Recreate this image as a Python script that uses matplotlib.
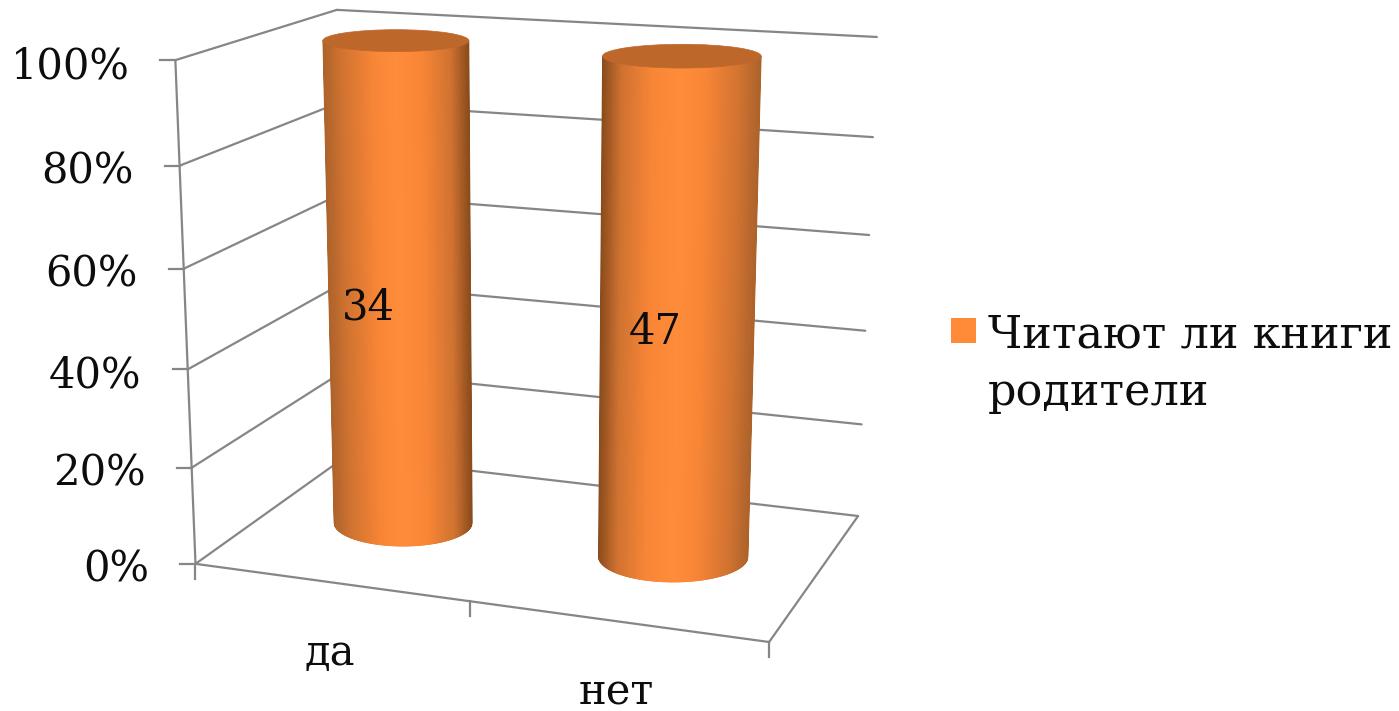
import matplotlib

matplotlib.use("Agg")
import matplotlib.pyplot as plt
import numpy as np
from matplotlib.collections import PolyCollection
from matplotlib.colors import LinearSegmentedColormap
from matplotlib.patches import Ellipse, Rectangle

categories = ["да", "нет"]
counts = [34, 47]
y_ticks = [0, 20, 40, 60, 80, 100]
y_labels = ["0%", "20%", "40%", "60%", "80%", "100%"]
series_name = "Читают ли книги\nродители"

FONT = "DejaVu Serif"
INK = "#0d0d0d"
GRID = "#868686"
ORANGE = "#FF8B39"
CAP = "#BE672B"

# box corners (u along categories, v depth, w height) -> pixel, for the perspective fit
corners = {
    (0, 0, 0): (195, 564),
    (1, 0, 0): (769, 642),
    (1, 1, 0): (858, 516),
    (0, 1, 0): (347, 456),
    (0, 0, 1): (176, 60),
    (1, 1, 1): (877, 37),
    (0, 1, 1): (336, 10),
}


def fit_projection(pairs):
    rows = []
    for (u, v, w), (x, y) in pairs.items():
        rows.append([u, v, w, 1, 0, 0, 0, 0, -x * u, -x * v, -x * w, -x])
        rows.append([0, 0, 0, 0, u, v, w, 1, -y * u, -y * v, -y * w, -y])
    _, _, vt = np.linalg.svd(np.array(rows, dtype=float))
    return vt[-1].reshape(3, 4)


P = fit_projection(corners)


def project(u, v, w):
    u, v, w = np.broadcast_arrays(u, v, w)
    pts = np.stack([u, v, w, np.ones_like(u, dtype=float)], axis=-1)
    res = pts @ P.T
    return res[..., :2] / res[..., 2:3]


shade = LinearSegmentedColormap.from_list(
    "cyl",
    [
        (0.0, "#AD632B"),
        (0.12, "#CF7231"),
        (0.35, "#F98636"),
        (0.5, "#FF8C3A"),
        (0.68, "#F98636"),
        (0.88, "#CF7231"),
        (1.0, "#8A4C1C"),
    ],
)

fig = plt.figure(figsize=(13.99, 7.11), dpi=100)
ax = fig.add_axes([0, 0, 1, 1])
ax.set_xlim(0, 1399)
ax.set_ylim(711, 0)
ax.axis("off")


def line3d(a, b):
    pts = project(*np.array([a, b], dtype=float).T)
    ax.plot(pts[:, 0], pts[:, 1], color=GRID, lw=1.6, solid_capstyle="round", zorder=1)


# walls and floor
for t in y_ticks:
    w = t / 100
    line3d((0, 0, w), (0, 1, w))
    line3d((0, 1, w), (1, 1, w))
    x0, y0 = project(0, 0, w)
    ax.plot([x0 - 15, x0], [y0, y0], color=GRID, lw=1.6, zorder=1)
line3d((0, 0, 0), (0, 0, 1))
line3d((0, 0, 0), (1, 0, 0))
line3d((1, 0, 0), (1, 1, 0))
for u in [0, 0.5, 1]:
    x0, y0 = project(u, 0, 0)
    ax.plot([x0, x0], [y0, y0 + 15], color=GRID, lw=1.6, zorder=1)

for t, lab in zip(y_ticks, y_labels):
    x0, y0 = project(0, 0, t / 100)
    ax.text(x0 - 46, y0 + 6, lab, ha="right", va="center", fontsize=30, family=FONT, color=INK)


def ellipse_size(uc, w):
    (x0, _), (x1, _) = project(uc - R_U, 0.5, w), project(uc + R_U, 0.5, w)
    (_, y0), (_, y1) = project(uc, 0.5 - R_V, w), project(uc, 0.5 + R_V, w)
    return abs(x1 - x0) / 2, abs(y1 - y0) / 2


# cylinders, caps kept level like the original renderer does
R_U = 0.133
R_V = 0.21
label_offset = [(-31, 5), (-22, 3)]
n = len(categories)
s = np.linspace(-1, 1, 241)
for i, (name, count) in enumerate(zip(categories, counts)):
    uc = (i + 0.5) / n
    share = count / count  # 100% stacked, single series
    bx, by = project(uc, 0.5, 0.0)
    tx, ty = project(uc, 0.5, share)
    brx, bry = ellipse_size(uc, 0.0)
    trx, try_ = ellipse_size(uc, share)

    arc = np.sqrt(1 - s**2)
    bottom = np.column_stack([bx + brx * s, by + bry * arc])
    top = np.column_stack([tx + trx * s, ty + try_ * arc])
    pos = (s + 1) / 2
    if i == 1:
        pos = 1 - pos  # light falls from the other side here
    quads = [[bottom[j], bottom[j + 1], top[j + 1], top[j]] for j in range(len(s) - 1)]
    colors = [shade(p) for p in pos[:-1]]
    ax.add_collection(PolyCollection(quads, facecolors=colors, edgecolors=colors, linewidths=0.6, zorder=3))
    ax.add_patch(Ellipse((tx, ty), 2 * trx, 2 * try_, facecolor=CAP, edgecolor=CAP, lw=0.5, zorder=4))

    lx, ly = project(uc, 0.5, 0.47)
    ax.text(lx + label_offset[i][0], ly + label_offset[i][1], str(count), ha="center", va="center",
            fontsize=30, family=FONT, color=INK, zorder=5)

    cx, cy = project(uc, 0, 0)
    ax.text(cx, cy + 71, name, ha="center", va="center", fontsize=30, family=FONT, color=INK)

# legend
ax.add_patch(Rectangle((951, 318), 25, 25, facecolor=ORANGE, edgecolor="none"))
ax.text(988, 364, series_name, ha="left", va="center", fontsize=32, family=FONT, color=INK, linespacing=1.42)

fig.savefig("out.png", dpi=100, facecolor="white")
